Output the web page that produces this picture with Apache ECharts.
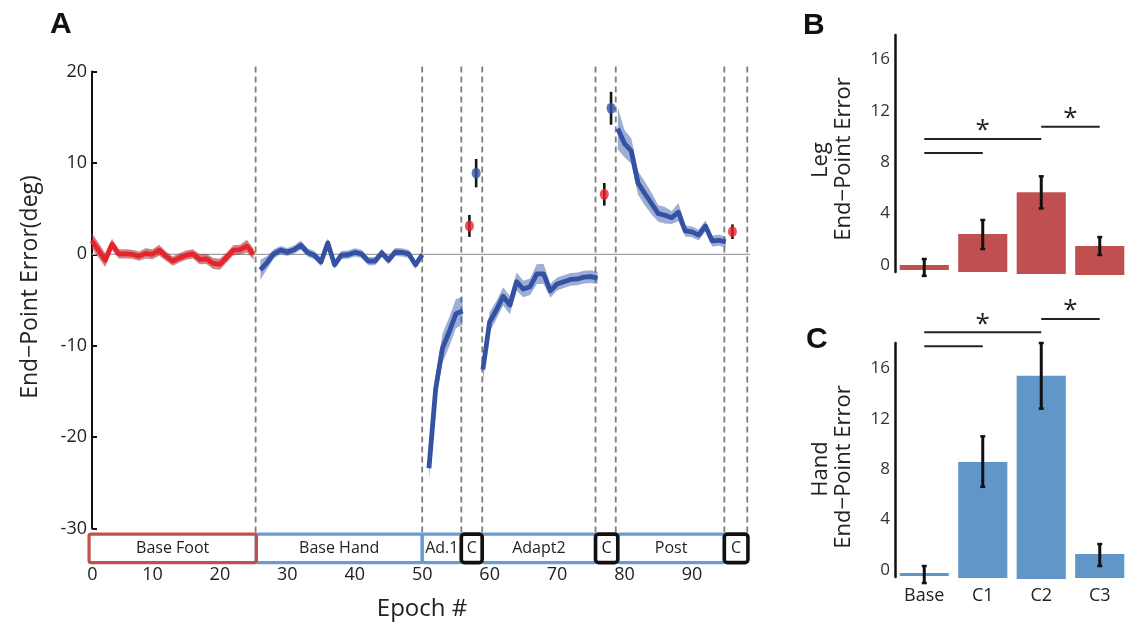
<!DOCTYPE html>
<html><head><meta charset="utf-8">
<script src="https://cdn.jsdelivr.net/npm/echarts@6/dist/echarts.min.js"></script>
<style>html,body{margin:0;padding:0;background:#fff}#c{width:1129px;height:625px}</style>
</head><body><div id="c"></div>
<script>
// ---------- Panel A data ----------
const footEpochs = [1,2,3,4,5,6,7,8,9,10,11,12,13,14,15,16,17,18,19,20,21,22,23,24,25];
const footMean = [1.5,0.45,-0.65,1.1,0.05,0.05,0,-0.2,0.1,0,0.45,-0.2,-0.75,-0.4,-0.1,0.05,-0.55,-0.5,-1.0,-1.1,-0.35,0.45,0.5,0.9,0];
const footSem = [0.85,0.8,0.75,0.6,0.5,0.5,0.5,0.5,0.55,0.55,0.6,0.5,0.5,0.5,0.5,0.5,0.55,0.55,0.6,0.6,0.55,0.55,0.55,0.7,0.6];

const baseHandEpochs = [26,27,28,29,30,31,32,33,34,35,36,37,38,39,40,41,42,43,44,45,46,47,48,49,50];
const baseHandMean = [-1.7,-0.9,0.05,0.45,0.25,0.5,1.0,0.2,-0.1,-0.85,1.25,-1.15,-0.1,-0.05,0.2,0.05,-0.75,-0.75,0.15,-0.65,0.25,0.2,0.05,-1.15,-0.05];
const baseHandSem = [1.1,0.7,0.5,0.45,0.45,0.45,0.5,0.45,0.45,0.45,0.5,0.45,0.45,0.45,0.45,0.45,0.45,0.45,0.45,0.45,0.45,0.45,0.45,0.45,0.45];

const adapt1Epochs = [51,52,53,54,55,56];
const adapt1Mean = [-23.4,-14.7,-10.3,-8.5,-6.5,-6.2];
const adapt1Sem = [1.3,1.4,1.6,1.6,1.6,1.5];

const adapt2Epochs = [59,60,61,62,63,64,65,66,67,68,69,70,71,72,73,74,75,76];
const adapt2Mean = [-12.6,-7.4,-6.1,-4.6,-5.55,-3.0,-3.8,-3.55,-2.15,-2.15,-4.0,-3.25,-3.0,-2.75,-2.7,-2.5,-2.45,-2.6];
const adapt2Sem = [1.3,1.1,1.0,1.0,1.0,1.0,0.9,0.9,1.1,1.1,0.75,0.7,0.7,0.7,0.7,0.7,0.7,0.65];

const postEpochs = [79,80,81,82,83,84,85,86,87,88,89,90,91,92,93,94,95];
const postMean = [13.76,12.1,11.3,7.8,6.65,5.55,4.45,4.27,4.0,4.6,2.55,2.45,2.1,3.1,1.46,1.53,1.35];
const postSem = [2.3,1.5,1.4,1.3,1.3,1.2,0.9,0.9,0.7,1.0,0.6,0.6,0.6,0.6,0.6,0.6,0.6];

// catch-trial points
const legCatchEpochs = [57,77,96];
const legCatchMean = [3.1,6.56,2.47];
const legCatchErr = [1.2,1.24,0.8];
const handCatchEpochs = [58,78];
const handCatchMean = [8.87,15.97];
const handCatchErr = [1.55,1.8];

// phases (epoch boundaries)
const phaseNames = ['Base Foot','Base Hand','Ad.1','Adapt2','Post','C','C','C'];
const phaseKind  = ['foot','hand','hand','hand','hand','test','test','test'];
const phaseStart = [0.6,25.4,50,58.9,79,55.8,75.7,94.8];
const phaseEnd   = [25.4,50,55.8,75.7,94.8,58.9,79,98.3];
const boundaries = [25.3,50,55.8,58.9,75.7,78.7,94.8,98.2];

const xTicksA = [0,10,20,30,40,50,60,70,80,90];
const yTicksA = [-30,-20,-10,0,10,20];

// ---------- Panel B / C data ----------
const barCats = ['Base','C1','C2','C3'];
const legBarTop = [0,2.4,5.66,1.47];
const legBarBottom = [-0.4,-0.55,-0.7,-0.78];
const legErrLow = [-0.85,1.24,4.4,0.78];
const legErrHigh = [0.46,3.5,6.9,2.17];
const handBarTop = [-0.24,8.57,15.4,1.27];
const handBarBottom = [-0.48,-0.63,-0.71,-0.63];
const handErrLow = [-1.03,6.6,12.8,0.32];
const handErrHigh = [0.32,10.6,18.0,2.06];
const barTicks = [0,4,8,12,16];
// significance brackets: [fromCat, toCat, height]
const legSigFrom = [0,0,2], legSigTo = [1,2,3], legSigH = [8.72,9.81,10.75];
const handSigFrom = [0,0,2], handSigTo = [1,2,3], handSigH = [17.75,18.85,19.9];
const sigStar = [false,true,true];

// ---------- styles ----------
const FONT = '"Open Sans", "DejaVu Sans", sans-serif';
const RED = '#e8232a', RED_BAND = 'rgba(165,55,65,0.6)';
const BLUE = '#3352a3', BLUE_BAND = 'rgba(55,85,165,0.48)';
const BOX_RED = '#c0504d', BOX_BLUE = '#6a9bd2';
const BAR_RED = '#c0504f', BAR_BLUE = '#6196c9';
const XMAX = 98.6;

const segments = [
  {ep: footEpochs, m: footMean, s: footSem, line: RED, band: RED_BAND},
  {ep: baseHandEpochs, m: baseHandMean, s: baseHandSem, line: BLUE, band: BLUE_BAND},
  {ep: adapt1Epochs, m: adapt1Mean, s: adapt1Sem, line: BLUE, band: BLUE_BAND},
  {ep: adapt2Epochs, m: adapt2Mean, s: adapt2Sem, line: BLUE, band: BLUE_BAND},
  {ep: postEpochs, m: postMean, s: postSem, line: BLUE, band: BLUE_BAND}
];

const series = [];

// zero line
series.push({
  type: 'custom', xAxisIndex: 0, yAxisIndex: 0, clip: false, silent: true, z: 1,
  data: [[0, 0]],
  renderItem: function (p, api) {
    const a = api.coord([footEpochs[0], 0]);
    const b = api.coord([XMAX, 0]);
    return {type: 'line', shape: {x1: a[0], y1: a[1], x2: b[0], y2: b[1]}, style: {stroke: '#a0a0a0', lineWidth: 1.3}};
  }
});
// dashed phase boundaries
series.push({
  type: 'custom', xAxisIndex: 0, yAxisIndex: 0, clip: false, silent: true, z: 1,
  data: boundaries.map(b => [b, 0]),
  renderItem: function (p, api) {
    const x = boundaries[p.dataIndex];
    const t = api.coord([x, 20]);
    const b = api.coord([x, -30]);
    return {type: 'line', shape: {x1: t[0], y1: t[1] - 5, x2: b[0], y2: b[1] + 4},
      style: {stroke: '#7d7d7d', lineWidth: 1.8, lineDash: [6, 4]}};
  }
});
// bands
series.push({
  type: 'custom', xAxisIndex: 0, yAxisIndex: 0, clip: false, silent: true, z: 2,
  data: segments.map(s => [s.ep[0], s.m[0]]),
  renderItem: function (p, api) {
    const s = segments[p.dataIndex];
    const up = s.ep.map((e, i) => api.coord([e, s.m[i] + s.s[i]]));
    const lo = s.ep.map((e, i) => api.coord([e, s.m[i] - s.s[i]])).reverse();
    return {type: 'polygon', shape: {points: up.concat(lo)}, style: {fill: s.band}};
  }
});
// mean lines
segments.forEach(s => {
  series.push({
    type: 'line', xAxisIndex: 0, yAxisIndex: 0, z: 3, silent: true,
    data: s.ep.map((e, i) => [e, s.m[i]]),
    symbol: 'none', lineStyle: {color: s.line, width: 4.8, join: 'round'}
  });
});
// catch-trial error bars
function catchErr(ep, m, err) {
  return {
    type: 'custom', xAxisIndex: 0, yAxisIndex: 0, z: 4, silent: true,
    data: ep.map((e, i) => [e, m[i]]),
    renderItem: function (p, api) {
      const i = p.dataIndex;
      const a = api.coord([ep[i], m[i] + err[i]]);
      const b = api.coord([ep[i], m[i] - err[i]]);
      return {type: 'line', shape: {x1: a[0], y1: a[1], x2: b[0], y2: b[1]}, style: {stroke: '#151515', lineWidth: 2.6}};
    }
  };
}
series.push(catchErr(legCatchEpochs, legCatchMean, legCatchErr));
series.push(catchErr(handCatchEpochs, handCatchMean, handCatchErr));
series.push({type: 'scatter', xAxisIndex: 0, yAxisIndex: 0, z: 5, silent: true,
  data: legCatchEpochs.map((e, i) => [e, legCatchMean[i]]), symbol: 'circle', symbolSize: [9, 11],
  itemStyle: {color: RED}});
series.push({type: 'scatter', xAxisIndex: 0, yAxisIndex: 0, z: 5, silent: true,
  data: handCatchEpochs.map((e, i) => [e, handCatchMean[i]]), symbol: 'circle', symbolSize: [9, 11],
  itemStyle: {color: '#3652a8'}});
// phase boxes
series.push({
  type: 'custom', xAxisIndex: 0, yAxisIndex: 0, clip: false, silent: true, z: 6,
  data: phaseStart.map((s, i) => [s, -30]),
  renderItem: function (p, api) {
    const i = p.dataIndex;
    const a = api.coord([phaseStart[i], -30]);
    const b = api.coord([phaseEnd[i], -30]);
    const top = a[1] + 5.5, h = 28.5;
    const k = phaseKind[i];
    const col = k === 'foot' ? BOX_RED : (k === 'hand' ? BOX_BLUE : '#111');
    return {type: 'group', children: [
      {type: 'rect', shape: {x: a[0], y: top, width: b[0] - a[0], height: h, r: k === 'test' ? 3 : 2},
        style: {fill: null, stroke: col, lineWidth: k === 'test' ? 3.6 : 3.2}, z2: k === 'test' ? 3 : (k === 'foot' ? 2 : 1)},
      {type: 'text', x: (a[0] + b[0]) / 2, y: top + h / 2,
        style: {text: phaseNames[i], font: '16px ' + FONT, fill: '#222', align: 'center', verticalAlign: 'middle'}, z2: 5}
    ]};
  }
});

// bar panels
function barSeries(idx, top, bottom, lo, hi, color) {
  return {
    type: 'custom', xAxisIndex: idx, yAxisIndex: idx, clip: false, silent: true, z: 3,
    data: barCats.map((c, i) => [i, top[i]]),
    renderItem: function (p, api) {
      const i = p.dataIndex;
      const t = api.coord([i, top[i]]);
      const b = api.coord([i, bottom[i]]);
      const w = api.size([1, 0])[0] * 0.84;
      const e1 = api.coord([i, hi[i]]);
      const e2 = api.coord([i, lo[i]]);
      return {type: 'group', children: [
        {type: 'rect', shape: {x: t[0] - w / 2, y: Math.min(t[1], b[1]), width: w, height: Math.abs(b[1] - t[1])}, style: {fill: color}},
        {type: 'line', shape: {x1: e1[0], y1: e1[1], x2: e2[0], y2: e2[1]}, style: {stroke: '#111', lineWidth: 3}},
        {type: 'line', shape: {x1: e1[0] - 2.5, y1: e1[1], x2: e1[0] + 2.5, y2: e1[1]}, style: {stroke: '#111', lineWidth: 2.5}},
        {type: 'line', shape: {x1: e2[0] - 2.5, y1: e2[1], x2: e2[0] + 2.5, y2: e2[1]}, style: {stroke: '#111', lineWidth: 2.5}}
      ]};
    }
  };
}
function sigSeries(idx, from, to, h) {
  return {
    type: 'custom', xAxisIndex: idx, yAxisIndex: idx, clip: false, silent: true, z: 4,
    data: from.map((f, i) => [f, h[i]]),
    renderItem: function (p, api) {
      const i = p.dataIndex;
      const a = api.coord([from[i], h[i]]);
      const b = api.coord([to[i], h[i]]);
      const ch = [{type: 'line', shape: {x1: a[0], y1: a[1], x2: b[0], y2: b[1]}, style: {stroke: '#222', lineWidth: 2}}];
      if (sigStar[i]) {
        ch.push({type: 'text', x: (a[0] + b[0]) / 2, y: a[1] - 8,
          style: {text: '*', font: '26px ' + FONT, fill: '#222', align: 'center', verticalAlign: 'middle'}});
      }
      return {type: 'group', children: ch};
    }
  };
}
series.push(barSeries(1, legBarTop, legBarBottom, legErrLow, legErrHigh, BAR_RED));
series.push(barSeries(2, handBarTop, handBarBottom, handErrLow, handErrHigh, BAR_BLUE));
series.push(sigSeries(1, legSigFrom, legSigTo, legSigH));
series.push(sigSeries(2, handSigFrom, handSigTo, handSigH));

function barYAxis(gi, max) {
  return {
    type: 'value', gridIndex: gi, min: -0.55, max: max,
    axisLine: {show: true, lineStyle: {color: '#111', width: 2.5}},
    axisTick: {show: false}, splitLine: {show: false},
    axisLabel: {customValues: barTicks, fontSize: 17, fontFamily: FONT, color: '#333', margin: 5}
  };
}

const option = {
  animation: false,
  backgroundColor: '#fff',
  grid: [
    {left: 85, top: 71.4, width: XMAX * 6.744, height: 457.2},
    {left: 895, top: 35, width: 238, height: 237},
    {left: 895, top: 343, width: 238, height: 234}
  ],
  xAxis: [
    {type: 'value', gridIndex: 0, min: 0, max: XMAX, interval: 10,
      axisLine: {show: false}, axisTick: {show: false}, splitLine: {show: false},
      axisLabel: {customValues: xTicksA, fontSize: 18, fontFamily: FONT, color: '#222', margin: 37,
        formatter: v => v === 0 ? '{z|0}' : String(v),
        rich: {z: {fontSize: 18, fontFamily: FONT, color: '#222', padding: [0, 0, 0, 15]}}}},
    {type: 'category', gridIndex: 1, data: barCats, axisLine: {show: false}, axisTick: {show: false}, axisLabel: {show: false}},
    {type: 'category', gridIndex: 2, data: barCats, axisLine: {show: false}, axisTick: {show: false},
      axisLabel: {fontSize: 18, fontFamily: FONT, color: '#222', margin: 10}}
  ],
  yAxis: [
    {type: 'value', gridIndex: 0, min: -30, max: 20, interval: 10, offset: -7,
      axisLine: {show: true, lineStyle: {color: '#111', width: 2}},
      axisTick: {show: true, inside: true, length: 5, lineStyle: {color: '#111', width: 2}},
      splitLine: {show: false},
      axisLabel: {customValues: yTicksA, fontSize: 18, fontFamily: FONT, color: '#222', margin: 5}},
    barYAxis(1, 17.9),
    barYAxis(2, 18.0)
  ],
  series: series,
  graphic: [
    {type: 'text', left: 50, top: 10, style: {text: 'A', font: 'bold 30px "Liberation Sans", Arial, sans-serif', fill: '#111'}},
    {type: 'text', left: 803, top: 11, style: {text: 'B', font: 'bold 30px "Liberation Sans", Arial, sans-serif', fill: '#111'}},
    {type: 'text', left: 806, top: 325, style: {text: 'C', font: 'bold 30px "Liberation Sans", Arial, sans-serif', fill: '#111'}},
    {type: 'text', x: 30, y: 287, rotation: Math.PI / 2,
      style: {text: 'End−Point Error(deg)', font: '23px ' + FONT, fill: '#222', align: 'center', verticalAlign: 'middle'}},
    {type: 'text', x: 422, y: 609,
      style: {text: 'Epoch #', font: '24px ' + FONT, fill: '#222', align: 'center', verticalAlign: 'middle'}},
    {type: 'text', x: 821, y: 160, rotation: Math.PI / 2,
      style: {text: 'Leg', font: '22px ' + FONT, fill: '#222', align: 'center', verticalAlign: 'middle'}},
    {type: 'text', x: 844, y: 159, rotation: Math.PI / 2,
      style: {text: 'End−Point Error', font: '22px ' + FONT, fill: '#222', align: 'center', verticalAlign: 'middle'}},
    {type: 'text', x: 821, y: 469, rotation: Math.PI / 2,
      style: {text: 'Hand', font: '22px ' + FONT, fill: '#222', align: 'center', verticalAlign: 'middle'}},
    {type: 'text', x: 844, y: 467, rotation: Math.PI / 2,
      style: {text: 'End−Point Error', font: '22px ' + FONT, fill: '#222', align: 'center', verticalAlign: 'middle'}}
  ]
};
const chart = echarts.init(document.getElementById('c'), null, {renderer: 'canvas'});
chart.setOption(option);
</script></body></html>
